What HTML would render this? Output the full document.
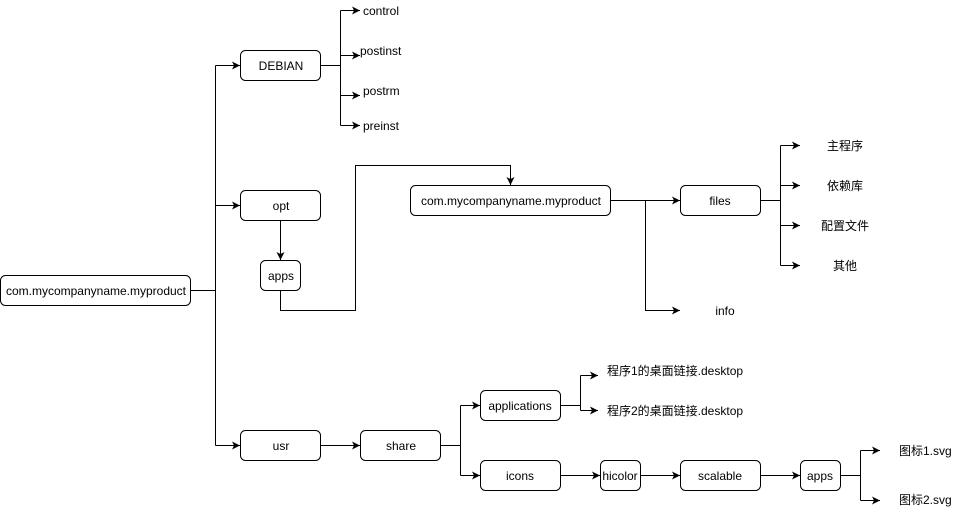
<!DOCTYPE html>
<html><head><meta charset="utf-8"><style>
html,body{margin:0;padding:0;background:#fff;}
svg text{font-family:"Liberation Sans","Noto Sans CJK SC",sans-serif;font-size:12px;fill:#000;}
</style></head><body>
<svg width="971" height="511" viewBox="0 0 971 511" xmlns="http://www.w3.org/2000/svg">
<defs>
<marker id="a" markerWidth="10" markerHeight="10" refX="8" refY="4" orient="auto" markerUnits="userSpaceOnUse">
<path d="M0,0 L8,4 L0,8 L2,4 Z" fill="#000"/>
</marker>
</defs>
<g fill="none" stroke="#000" stroke-width="1">
<!-- boxes -->
<rect x="0.5" y="275.5" width="190" height="30" rx="5"/>
<rect x="240.5" y="50.5" width="80" height="30" rx="5"/>
<rect x="240.5" y="190.5" width="80" height="30" rx="5"/>
<rect x="260.5" y="260.5" width="40" height="30" rx="5"/>
<rect x="240.5" y="430.5" width="80" height="30" rx="5"/>
<rect x="410.5" y="185.5" width="200" height="30" rx="5"/>
<rect x="680.5" y="185.5" width="80" height="30" rx="5"/>
<rect x="360.5" y="430.5" width="80" height="30" rx="5"/>
<rect x="480.5" y="390.5" width="80" height="30" rx="5"/>
<rect x="480.5" y="460.5" width="80" height="30" rx="5"/>
<rect x="600.5" y="460.5" width="40" height="30" rx="5"/>
<rect x="680.5" y="460.5" width="80" height="30" rx="5"/>
<rect x="800.5" y="460.5" width="40" height="30" rx="5"/>
<!-- root trunk -->
<path d="M190.5,290.5 H215.5"/>
<path d="M215.5,65.5 V445.5"/>
<path d="M215.5,65.5 H240" marker-end="url(#a)"/>
<path d="M215.5,205.5 H240" marker-end="url(#a)"/>
<path d="M215.5,445.5 H240" marker-end="url(#a)"/>
<!-- DEBIAN -->
<path d="M320.5,65.5 H340.5"/>
<path d="M340.5,10.5 V125.5"/>
<path d="M340.5,10.5 H360" marker-end="url(#a)"/>
<path d="M340.5,55.5 H360" marker-end="url(#a)"/>
<path d="M340.5,95.5 H360" marker-end="url(#a)"/>
<path d="M340.5,125.5 H360" marker-end="url(#a)"/>
<!-- opt -> apps -->
<path d="M280.5,220.5 V260" marker-end="url(#a)"/>
<path d="M280.5,290.5 V310.5 H355.5 V165.5 H510.5 V185" marker-end="url(#a)"/>
<!-- product -> files/info -->
<path d="M610.5,200.5 H680" marker-end="url(#a)"/>
<path d="M645.5,200.5 V310.5 H680" marker-end="url(#a)"/>
<!-- files -->
<path d="M760.5,200.5 H780.5"/>
<path d="M780.5,145.5 V265.5"/>
<path d="M780.5,145.5 H800" marker-end="url(#a)"/>
<path d="M780.5,185.5 H800" marker-end="url(#a)"/>
<path d="M780.5,225.5 H800" marker-end="url(#a)"/>
<path d="M780.5,265.5 H800" marker-end="url(#a)"/>
<!-- usr -> share -->
<path d="M320.5,445.5 H360" marker-end="url(#a)"/>
<path d="M440.5,445.5 H460.5"/>
<path d="M460.5,405.5 V475.5"/>
<path d="M460.5,405.5 H480" marker-end="url(#a)"/>
<path d="M460.5,475.5 H480" marker-end="url(#a)"/>
<!-- applications -->
<path d="M560.5,405.5 H580.5"/>
<path d="M580.5,375.5 V410.5"/>
<path d="M580.5,375.5 H598" marker-end="url(#a)"/>
<path d="M580.5,410.5 H598" marker-end="url(#a)"/>
<!-- icons chain -->
<path d="M560.5,475.5 H600" marker-end="url(#a)"/>
<path d="M640.5,475.5 H680" marker-end="url(#a)"/>
<path d="M760.5,475.5 H800" marker-end="url(#a)"/>
<path d="M840.5,475.5 H860.5"/>
<path d="M860.5,450.5 V500.5"/>
<path d="M860.5,450.5 H880" marker-end="url(#a)"/>
<path d="M860.5,500.5 H880" marker-end="url(#a)"/>
</g>
<g text-anchor="middle" dominant-baseline="central">
<text x="96" y="291">com.mycompanyname.myproduct</text>
<text x="281" y="66">DEBIAN</text>
<text x="281" y="206">opt</text>
<text x="281" y="276">apps</text>
<text x="281" y="446">usr</text>
<text x="511" y="201">com.mycompanyname.myproduct</text>
<text x="720" y="201">files</text>
<text x="725" y="311">info</text>
<text x="845" y="146">主程序</text>
<text x="845" y="186">依赖库</text>
<text x="845" y="226">配置文件</text>
<text x="845" y="266">其他</text>
<text x="401" y="446">share</text>
<text x="520" y="406">applications</text>
<text x="520" y="476">icons</text>
<text x="620" y="476">hicolor</text>
<text x="720" y="476">scalable</text>
<text x="820" y="476">apps</text>
</g>
<g dominant-baseline="central">
<text x="363" y="11">control</text>
<text x="360" y="51">postinst</text>
<text x="363" y="91">postrm</text>
<text x="363" y="126">preinst</text>
<text x="607" y="371">程序1的桌面链接.desktop</text>
<text x="607" y="411">程序2的桌面链接.desktop</text>
<text x="899" y="451">图标1.svg</text>
<text x="899" y="500">图标2.svg</text>
</g>
</svg>
</body></html>
